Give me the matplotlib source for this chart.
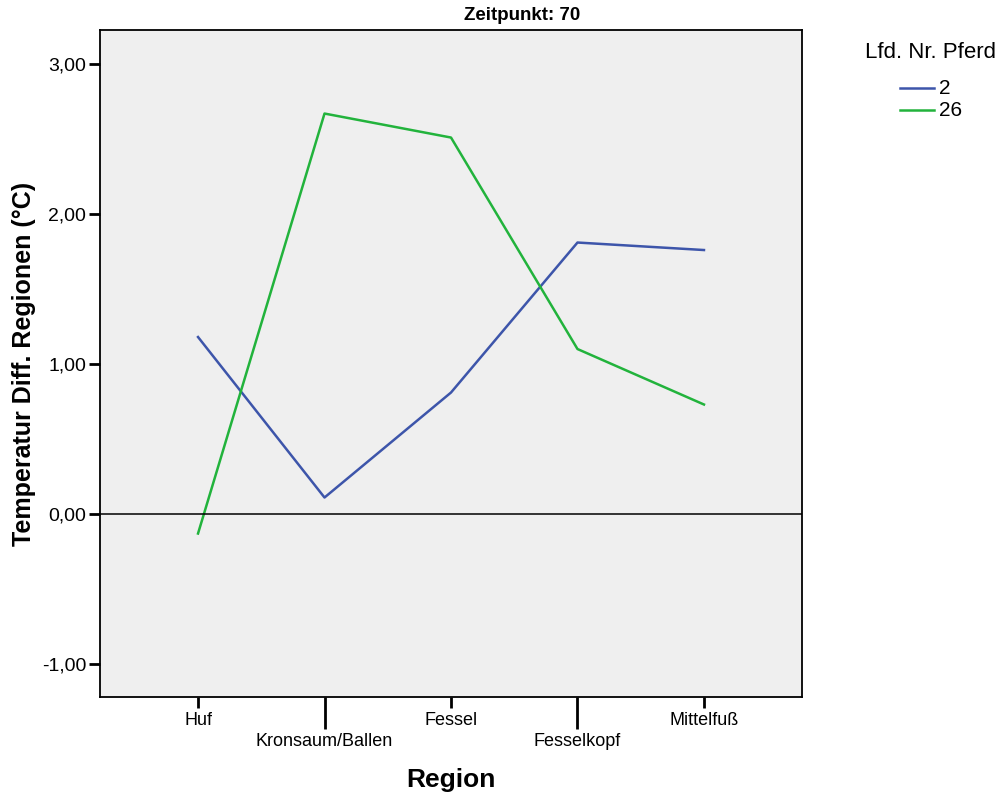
import matplotlib
matplotlib.use('agg')
import matplotlib.pyplot as plt

plt.rcParams['font.family'] = ['Liberation Sans', 'DejaVu Sans']

regions = ["Huf", "Kronsaum/Ballen", "Fessel", "Fesselkopf", "Mittelfuß"]
pferd_2 = [1.18, 0.11, 0.81, 1.81, 1.76]
pferd_26 = [-0.13, 2.67, 2.51, 1.10, 0.73]
series_names = ["2", "26"]
series_colors = ["#3d55aa", "#22b33c"]

fig = plt.figure(figsize=(10.01, 7.96), dpi=100)
ax = fig.add_axes([100/1001, 99/796, 702/1001, 667/796])
ax.set_facecolor("#efefef")

x = list(range(len(regions)))
ax.plot(x, pferd_2, color=series_colors[0], linewidth=1.8)
ax.plot(x, pferd_26, color=series_colors[1], linewidth=1.8)
ax.axhline(0, color="black", linewidth=1.1)

ax.set_xlim(-0.775, 4.775)
ax.set_ylim(-1.22, 3.227)
ax.set_yticks([-1, 0, 1, 2, 3])
ax.set_yticklabels(["-1,00", "0,00", "1,00", "2,00", "3,00"], fontsize=14)
ax.tick_params(axis='y', direction='out', length=8, width=2, pad=2)

# alternating labels: short ticks on major, long ticks on minor
ax.set_xticks([0, 2, 4])
ax.set_xticklabels([regions[0], regions[2], regions[4]], fontsize=13)
ax.set_xticks([1, 3], minor=True)
ax.set_xticklabels([regions[1], regions[3]], minor=True, fontsize=13)
ax.tick_params(axis='x', which='major', direction='out', length=8, width=2, pad=3)
ax.tick_params(axis='x', which='minor', direction='out', length=23, width=2, pad=3)

for s in ax.spines.values():
    s.set_linewidth(1.3)

fig.text(522/1001, 1 - 16/796, "Zeitpunkt: 70", fontsize=13.5, fontweight='bold',
         ha='center', va='center')
ax.set_xlabel("Region", fontsize=19, fontweight='bold', labelpad=13)
ax.set_ylabel("Temperatur Diff. Regionen (°C)", fontsize=18, fontweight='bold', labelpad=4)

fig.text(865/1001, 1 - 52/796, "Lfd. Nr. Pferd", fontsize=16, va='center', ha='left')
for i, (name, col) in enumerate(zip(series_names, series_colors)):
    yy = 1 - (88 + 22 * i) / 796
    fig.add_artist(plt.Line2D([900/1001, 934/1001], [yy, yy], color=col, linewidth=1.8,
                              transform=fig.transFigure))
    fig.text(939/1001, yy, name, fontsize=15, va='center', ha='left')

plt.savefig("out.png", dpi=100)
